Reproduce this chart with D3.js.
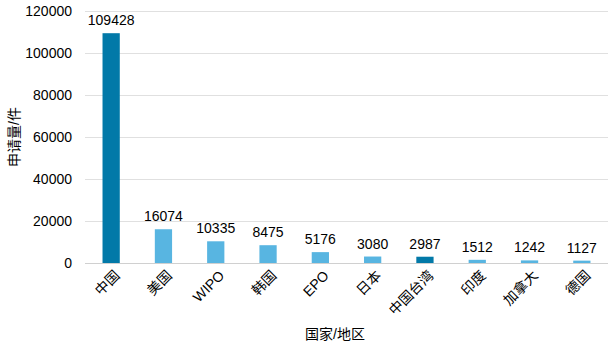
<!DOCTYPE html>
<html><head><meta charset="utf-8">
<script src="https://cdn.jsdelivr.net/npm/d3@7"></script>
<style>
body{margin:0;background:#fff;}
text{font-family:"Liberation Sans",Arial,"Noto Sans CJK SC",sans-serif;fill:#000;}
</style></head>
<body><svg id="c" width="614" height="348"></svg>
<script>
const categories = ["中国","美国","WIPO","韩国","EPO","日本","中国台湾","印度","加拿大","德国"];
const values = [109428,16074,10335,8475,5176,3080,2987,1512,1242,1127];
const highlight = ["中国","中国台湾"];
const yTicks = [0,20000,40000,60000,80000,100000,120000];

const svg = d3.select("#c");
const mL = 85, mR = 608, mT = 11, mB = 263;
const x = d3.scaleBand().domain(categories).range([mL,mR]).paddingInner(0.67).paddingOuter(0.335);
const y = d3.scaleLinear().domain([0,120000]).range([mB,mT]);

svg.append("g").selectAll("line").data(yTicks).join("line")
  .attr("x1",mL).attr("x2",mR).attr("y1",d=>y(d)).attr("y2",d=>y(d))
  .attr("stroke",d=>d===0?"#d0d0d0":"#e0e0e0").attr("stroke-width",1).attr("shape-rendering","crispEdges");

svg.append("g").selectAll("text").data(yTicks).join("text")
  .attr("x",72).attr("y",d=>y(d)).attr("dy","0.35em").attr("text-anchor","end")
  .attr("font-size",14).text(d=>d);

svg.append("g").selectAll("rect").data(categories).join("rect")
  .attr("x",d=>x(d)).attr("width",x.bandwidth())
  .attr("y",(d,i)=>y(values[i])).attr("height",(d,i)=>y(0)-y(values[i]))
  .attr("fill",d=>highlight.includes(d)?"#0279a8":"#58b5e1");

svg.append("g").selectAll("text").data(categories).join("text")
  .attr("x",d=>x(d)+x.bandwidth()/2).attr("y",(d,i)=>y(values[i])-8)
  .attr("text-anchor","middle").attr("font-size",14).text((d,i)=>values[i]);

svg.append("g").selectAll("text").data(categories).join("text")
  .attr("transform",d=>`translate(${x(d)+x.bandwidth()/2+6},${mB+10}) rotate(-45)`)
  .attr("text-anchor","end").attr("dy","0.35em").attr("font-size",14).text(d=>d);

svg.append("text").attr("transform",`translate(14,${(mT+mB)/2}) rotate(-90)`)
  .attr("text-anchor","middle").attr("dy","0.35em").attr("font-size",14).text("申请量/件");
svg.append("text").attr("x",335).attr("y",334).attr("text-anchor","middle").attr("dy","0.35em")
  .attr("font-size",14).text("国家/地区");
</script></body></html>
